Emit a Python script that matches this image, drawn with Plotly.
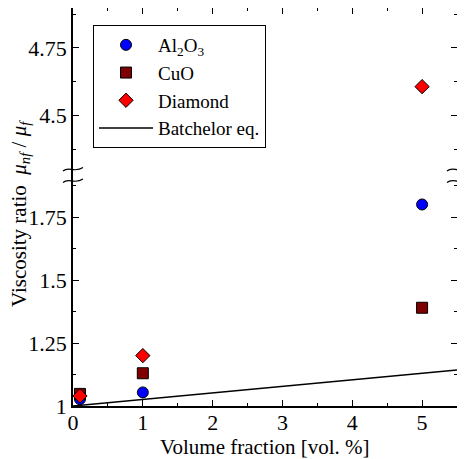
import plotly.graph_objects as go

# ---- data ----
x_vals = [0.1, 1, 5]
al2o3 = [1.027, 1.054, 1.80]
cuo = [1.048, 1.13, 1.39]
diamond = [1.04, 1.20, 4.607]
batch_x = [0, 5.5]
batch_y = [1.0, 1.143]

LOW_MAX = 1.917
UP_RANGE = [4.28, 4.898]

OFF = 8  # browser body margin
W, H = 465 - OFF, 459 - OFF
ML, MR, MT, MB = 73 - OFF, 8, 0, 53
PW, PH = W - ML - MR, H - MT - MB
BOT = 406  # screen y of plot bottom


def px(xs, ys):
    """screen pixel -> paper coordinates"""
    return (xs - 73) / PW, (BOT - ys) / PH


BREAK = px(0, 175)[1]

FONT = "Liberation Serif"

fig = go.Figure()

series = [
    ("Al<sub>2</sub>O<sub>3</sub>", al2o3, "circle", "#0000ff", 11),
    ("CuO", cuo, "square", "#7f0000", 11),
    ("Diamond", diamond, "diamond", "#ff0000", 11),
]

for name, ys, sym, col, sz in series:
    lo = [(x, y) for x, y in zip(x_vals, ys) if y <= LOW_MAX]
    hi = [(x, y) for x, y in zip(x_vals, ys) if y > LOW_MAX]
    mk = dict(symbol=sym, color=col, size=sz, line=dict(color="black", width=1))
    fig.add_trace(go.Scatter(
        x=[p[0] for p in lo], y=[p[1] for p in lo], mode="markers",
        name=name, marker=mk, legendgroup=name, xaxis="x", yaxis="y"))
    if hi:
        fig.add_trace(go.Scatter(
            x=[p[0] for p in hi], y=[p[1] for p in hi], mode="markers",
            name=name, marker=mk, legendgroup=name, showlegend=False,
            xaxis="x2", yaxis="y2"))

fig.add_trace(go.Scatter(x=batch_x, y=batch_y, mode="lines", name="Batchelor eq.",
                         line=dict(color="black", width=1.5), xaxis="x", yaxis="y"))

axis_common = dict(
    showline=True, linecolor="black", linewidth=1.5, showgrid=False, zeroline=False,
    ticks="inside", ticklen=6, tickwidth=1, tickcolor="black",
    tickfont=dict(family=FONT, size=22, color="black"),
)

lx, ly = px(93, 25)
fig.update_layout(
    width=W, height=H,
    margin=dict(l=ML, r=MR, t=MT, b=MB),
    plot_bgcolor="white", paper_bgcolor="white",
    font=dict(family=FONT, color="black"),
    xaxis=dict(range=[0, 5.5], dtick=1, tick0=0, anchor="y", domain=[0, 1],
               ticklabelstandoff=-4,
               minor=dict(ticks="inside", ticklen=3, dtick=0.5, tickcolor="black"),
               **axis_common),
    xaxis2=dict(range=[0, 5.5], dtick=1, tick0=0, anchor="y2", side="top", matches="x",
                showticklabels=False,
                minor=dict(ticks="inside", ticklen=3, dtick=0.5, tickcolor="black"),
                **axis_common),
    yaxis=dict(range=[1, LOW_MAX], dtick=0.25, tick0=1, domain=[0, BREAK], anchor="x",
               mirror="ticks",
               minor=dict(ticks="inside", ticklen=3, dtick=0.125, tickcolor="black"),
               **axis_common),
    yaxis2=dict(range=UP_RANGE, dtick=0.25, tick0=4.5, domain=[BREAK, 1], anchor="x2",
                mirror="ticks",
                minor=dict(ticks="inside", ticklen=3, dtick=0.125, tickcolor="black"),
                **axis_common),
    legend=dict(x=lx, y=ly, xanchor="left", yanchor="top",
                bordercolor="black", borderwidth=1, bgcolor="white",
                font=dict(family=FONT, size=19, color="black"), tracegroupgap=0,
                itemwidth=54),
    showlegend=True,
)

# x-axis title
xtx, xty = px(265, 447)
fig.add_annotation(
    text="Volume fraction [vol. %]", xref="paper", yref="paper", x=xtx, y=xty,
    showarrow=False, font=dict(family=FONT, size=21, color="black"),
    xanchor="center", yanchor="middle")

# y-axis title (spans both axes)
tx, ty = px(20, 214)
fig.add_annotation(
    text="Viscosity ratio  <i>μ</i><sub><i>nf</i></sub> / <i>μ</i><sub><i>f</i></sub>",
    xref="paper", yref="paper", x=tx, y=ty,
    textangle=-90, showarrow=False, font=dict(family=FONT, size=21, color="black"),
    xanchor="center", yanchor="middle")


# break marks
def squiggle(cx, cy):
    pts = [px(cx - 10, cy + 1.5), px(cx - 4, cy - 4), px(cx + 1, cy + 4), px(cx + 10, cy - 2)]
    (x0, y0), (x1, y1), (x2, y2), (x3, y3) = pts
    return f"M {x0},{y0} C {x1},{y1} {x2},{y2} {x3},{y3}"


for cx in (73, 457):
    for cy in (169.5, 181):
        fig.add_shape(type="path", path=squiggle(cx, cy), xref="paper", yref="paper",
                      line=dict(color="black", width=1.2))

fig.write_html("out.html")
